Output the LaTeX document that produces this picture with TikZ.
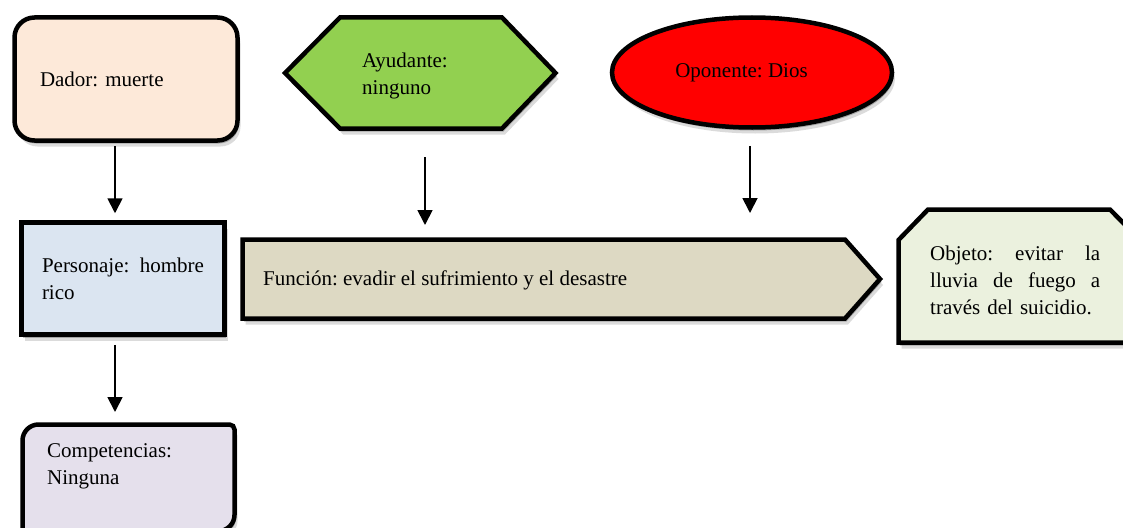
\documentclass[tikz,border=0pt]{standalone}
\usepackage{fontspec}
\setmainfont{Liberation Serif}
\usetikzlibrary{shapes.geometric,arrows.meta,shadows}
\definecolor{dadorfill}{HTML}{FDE9D9}
\definecolor{persfill}{HTML}{DBE5F1}
\definecolor{compfill}{HTML}{E5E0EC}
\definecolor{ayudfill}{HTML}{92D050}
\definecolor{oponfill}{HTML}{FF0000}
\definecolor{funcfill}{HTML}{DDD9C3}
\definecolor{objfill}{HTML}{EBF1DE}
\frenchspacing
\begin{document}
\begin{tikzpicture}[x=1pt,y=-1pt,
  every node/.style={font=\fontsize{21}{27}\selectfont},
  softshadow/.style={
    drop shadow={shadow xshift=1.5pt,shadow yshift=-3pt,opacity=0.25,fill=black},
    drop shadow={shadow xshift=3pt,shadow yshift=-6pt,opacity=0.14,fill=black}},
  outline/.style={draw=black,line width=4.5pt,softshadow},
  txt/.style={inner sep=0pt,align=left,anchor=west},
  arr/.style={line width=1.8pt,-{Triangle[length=15pt,width=15pt]}}]
\useasboundingbox (0,0) rectangle (1123,527);

% Dador
\node[outline,rounded corners=20pt,fill=dadorfill,minimum width=223pt,
      minimum height=123pt,text width=172pt,align=left] (dador) at (126,79)
      {Dador: muerte};

% Personaje
\node[outline,fill=persfill,minimum width=203pt,minimum height=112pt,
      text width=162pt,align=left] (pers) at (123,278.5)
      {Personaje:\hfill hombre\\rico};

% Competencias (box runs past the bottom edge)
\draw[outline,fill=compfill] (22.5,548) -- (22.5,440.5)
  .. controls (22.5,431.7) and (29.7,424.5) .. (38.5,424.5) -- (229.5,424.5)
  .. controls (232.3,424.5) and (234.5,426.7) .. (234.5,429.5) -- (234.5,515)
  .. controls (234.5,523.8) and (227.3,531) .. (218.5,531) -- (22.5,548) -- cycle;
\node[txt] (comp) at (47,466) {Competencias:\\Ninguna};
\coordinate (compN) at (115,422);

% Ayudante
\draw[outline,fill=ayudfill] (285,73) -- (340,17.5) -- (502,17.5)
  -- (555.5,73) -- (502,128.5) -- (340,128.5) -- cycle;
\node[txt] (ayud) at (362,75.5) {Ayudante:\\ninguno};
\coordinate (ayudS) at (425,131);

% Oponente
\node[outline,ellipse,fill=oponfill,minimum width=280pt,minimum height=110pt]
  (opon) at (752,72.5) {};
\node[inner sep=0pt] (oponText) at (741.5,73) {Oponente: Dios};

% Funcion
\draw[outline,fill=funcfill] (242.5,239.5) -- (845,239.5) -- (880,279)
  -- (845,318.5) -- (242.5,318.5) -- cycle;
\node[txt] (func) at (263,280) {Función: evadir el sufrimiento y el desastre};
\coordinate (funcA) at (425,237);
\coordinate (funcB) at (750,237);

% Objeto (box runs past the right edge)
\draw[outline,fill=objfill] (898.5,240) -- (928,209.5) -- (1110,209.5)
  -- (1140,240) -- (1140,342.5) -- (898.5,342.5) -- cycle;
\node[txt,text width=170pt] (obj) at (930,280)
  {Objeto:\hfill evitar\hfill la\\lluvia\hfill de\hfill fuego\hfill a\\través del suicidio.};

% Connectors
\draw[arr] ([xshift=-11pt,yshift=-3pt]dador.south) -- ([xshift=-8pt,yshift=7pt]pers.north);
\draw[arr] ([xshift=-8pt,yshift=-8pt]pers.south) -- ([yshift=10pt]compN);
\draw[arr] ([yshift=-26pt]ayudS) -- ([yshift=12pt]funcA);
\draw[arr] ([xshift=-2pt,yshift=-16pt]opon.south) -- ([yshift=24pt]funcB);
\end{tikzpicture}
\end{document}
